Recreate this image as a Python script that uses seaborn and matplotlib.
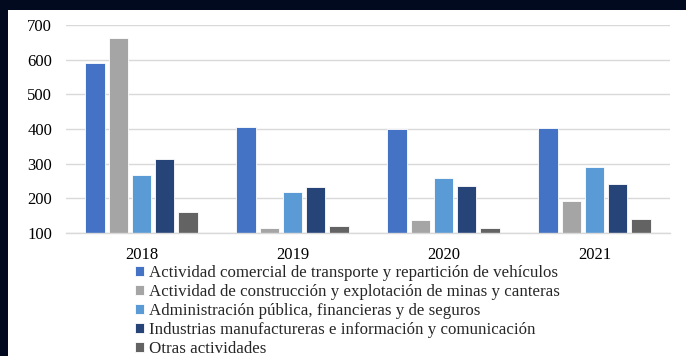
import matplotlib
matplotlib.use("Agg")
import matplotlib.pyplot as plt
from matplotlib.patches import Rectangle
import seaborn as sns
import pandas as pd

years = ["2018", "2019", "2020", "2021"]
sectores = [
    "Actividad comercial de transporte y repartición de vehículos",
    "Actividad de construcción y explotación de minas y canteras",
    "Administración pública, financieras y de seguros",
    "Industrias manufactureras e información y comunicación",
    "Otras actividades",
]
comercio = [590, 405, 399, 404]
construccion = [663, 115, 137, 191]
administracion = [267, 218, 259, 291]
industrias = [313, 232, 235, 242]
otras = [161, 121, 113, 140]
colores = ["#4472C4", "#A5A5A5", "#5B9BD5", "#264478", "#636363"]
y_ticks = [100, 200, 300, 400, 500, 600, 700]

series = [comercio, construccion, administracion, industrias, otras]
rows = []
for nombre, vals in zip(sectores, series):
    for y, v in zip(years, vals):
        rows.append({"Año": y, "Sector": nombre, "Valor": v})
df = pd.DataFrame(rows)

sns.set_theme(style="white")
plt.rcParams["font.family"] = ["Liberation Serif", "DejaVu Serif"]

fig = plt.figure(figsize=(6.86, 3.56), dpi=100)
fig.patch.set_facecolor("#020a1f")
fig.patches.append(Rectangle((8 / 686, 0), 1 - 8 / 686, 1 - 10 / 356,
                             transform=fig.transFigure, facecolor="white",
                             edgecolor="none", zorder=-5))

ax = fig.add_axes([66 / 686, 1 - 233 / 356, (670 - 66) / 686, (233 - 25) / 356])
ax.set_zorder(2)
ax.set_facecolor("none")

sns.barplot(data=df, x="Año", y="Valor", hue="Sector", palette=colores,
            saturation=1, width=0.77, gap=0.18, edgecolor="white",
            linewidth=0.6, ax=ax, legend=True)

# bars start at the 100 baseline
for bar in ax.patches:
    h = bar.get_height()
    bar.set_y(100)
    bar.set_height(h - 100)

ax.set_ylim(100, 700)
ax.set_xlim(-0.5, 3.5)
ax.set_yticks(y_ticks)
ax.yaxis.grid(True, color="#d9d9d9", linewidth=1.0)
ax.set_axisbelow(True)
for s in ["top", "right", "left"]:
    ax.spines[s].set_visible(False)
ax.spines["bottom"].set_color("#d9d9d9")
ax.spines["bottom"].set_linewidth(1.0)
ax.tick_params(axis="y", length=0, pad=10, labelsize=12, labelcolor="black")
ax.tick_params(axis="x", length=0, pad=10, labelsize=12, labelcolor="black")
ax.set_xlabel("")
ax.set_ylabel("")

handles, labels = ax.get_legend_handles_labels()
ax.get_legend().remove()
leg = fig.legend(handles, labels, loc="upper left",
                 bbox_to_anchor=(135 / 686, 1 - 265 / 356),
                 frameon=False, fontsize=12.2, borderpad=0, borderaxespad=0,
                 handlelength=0.55, handleheight=0.55, handletextpad=0.3,
                 labelspacing=0.18)
leg.set_zorder(3)

fig.savefig("out.png", dpi=100, facecolor=fig.get_facecolor())
